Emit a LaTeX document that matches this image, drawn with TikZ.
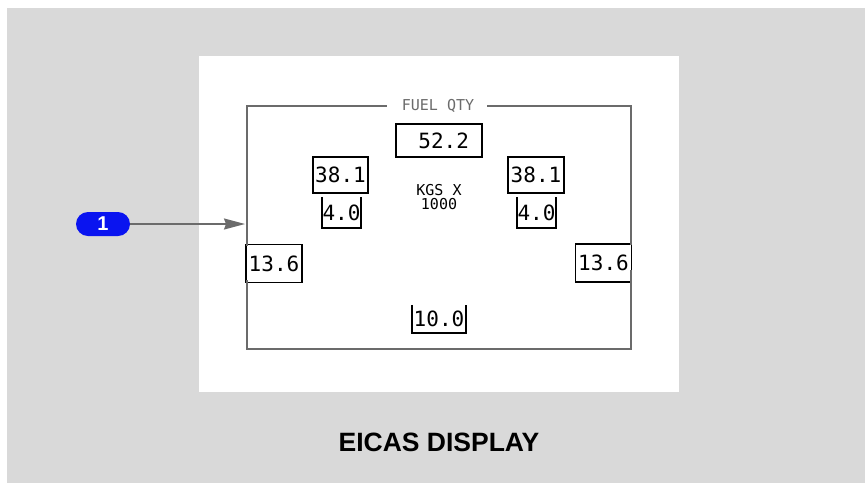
\documentclass[tikz,border=0pt]{standalone}
\usepackage{fontspec}
\setmainfont{Liberation Sans}
\newfontfamily\dispfont{DejaVu Sans Mono}
\usepackage{xcolor}
\definecolor{panelgray}{RGB}{217,217,217}
\definecolor{framegray}{RGB}{107,107,107}
\definecolor{calloutblue}{RGB}{10,20,240}
\usepackage{tikz}
\usetikzlibrary{arrows.meta, positioning}
\tikzset{
  valbox/.style={draw=black, line width=1.6pt, inner sep=0pt,
                 font=\dispfont\fontsize{21}{21}\selectfont},
  openbox/.style={inner sep=0pt,
                  font=\dispfont\fontsize{21}{21}\selectfont},
  boxline/.style={black, line width=1.6pt},
  frameline/.style={framegray, line width=1.8pt},
  smalltext/.style={font=\dispfont\fontsize{15}{14.5}\selectfont, inner sep=0pt},
  callout/.style={fill=calloutblue, text=white, rounded corners=12pt,
                  minimum width=54pt, minimum height=24pt, inner sep=0pt,
                  font=\bfseries\fontsize{20}{20}\selectfont},
  leader/.style={-{Stealth[length=21pt,width=11pt,inset=2pt]},
                 framegray, line width=1.5pt},
}

\begin{document}
\begin{tikzpicture}[x=1pt, y=-1pt]
  \useasboundingbox (0,0) rectangle (865,483);
  % background and display panel
  \fill[panelgray] (7,8) rectangle (865,483);
  \fill[white] (199,56) rectangle (679,392);

  % frame corners
  \coordinate (tl) at (247,106);
  \coordinate (tr) at (631,106);
  \coordinate (bl) at (247,349);
  \coordinate (br) at (631,349);

  % title of the page
  \node[smalltext, text=framegray] (title) at (438,106) {FUEL QTY};

  % total
  \node[valbox, minimum width=86pt, minimum height=33pt,
        text width=60pt, align=right] (total) at (439,140.5) {52.2};

  % centre tanks
  \node[valbox, minimum width=55pt, minimum height=36pt] (ctrL) at (340.5,175) {38.1};
  \node[valbox, minimum width=56pt, minimum height=36pt] (ctrR) at (536,175) {38.1};

  % auxiliary tanks (open top)
  \node[openbox, minimum width=39pt, minimum height=31pt] (auxL) at (341.5,212.5) {4.0};
  \node[openbox, minimum width=39pt, minimum height=31pt] (auxR) at (536.5,212.5) {4.0};

  % main tanks
  \node[valbox, minimum width=56pt, minimum height=38pt] (mainL) at (274,263.5) {13.6};
  \node[valbox, minimum width=56pt, minimum height=38pt] (mainR) at (603.5,263) {13.6};

  % tail tank (open top)
  \node[openbox, minimum width=54pt, minimum height=28pt] (tail) at (439,319) {10.0};

  \foreach \n in {auxL,auxR,tail}{
    \draw[boxline] (\n.north west) |- (\n.south east) -- (\n.north east);
  }

  % units
  \node[smalltext, align=center] (units) at (439,197) {KGS X\\1000};

  % frame
  \draw[frameline] ([xshift=-15pt]title.west) -- (tl) -- ([yshift=-2pt]mainL.north -| tl);
  \draw[frameline] ([xshift=13pt]title.east) -- (tr) -- ([yshift=-2pt]mainR.north -| tr);
  \draw[frameline] ([yshift=3pt]mainL.south -| bl) -- (bl) -- (br)
                   -- ([yshift=13pt]mainR.south -| br);

  % callout
  \node[callout] (c1) at (103,224) {1};
  \coordinate (c1tip) at (245,224);
  \draw[leader] (c1.east) -- (c1tip);

  \node[font=\bfseries\fontsize{26.5}{26.5}\selectfont] (caption) at (439,442) {EICAS DISPLAY};
\end{tikzpicture}
\end{document}
